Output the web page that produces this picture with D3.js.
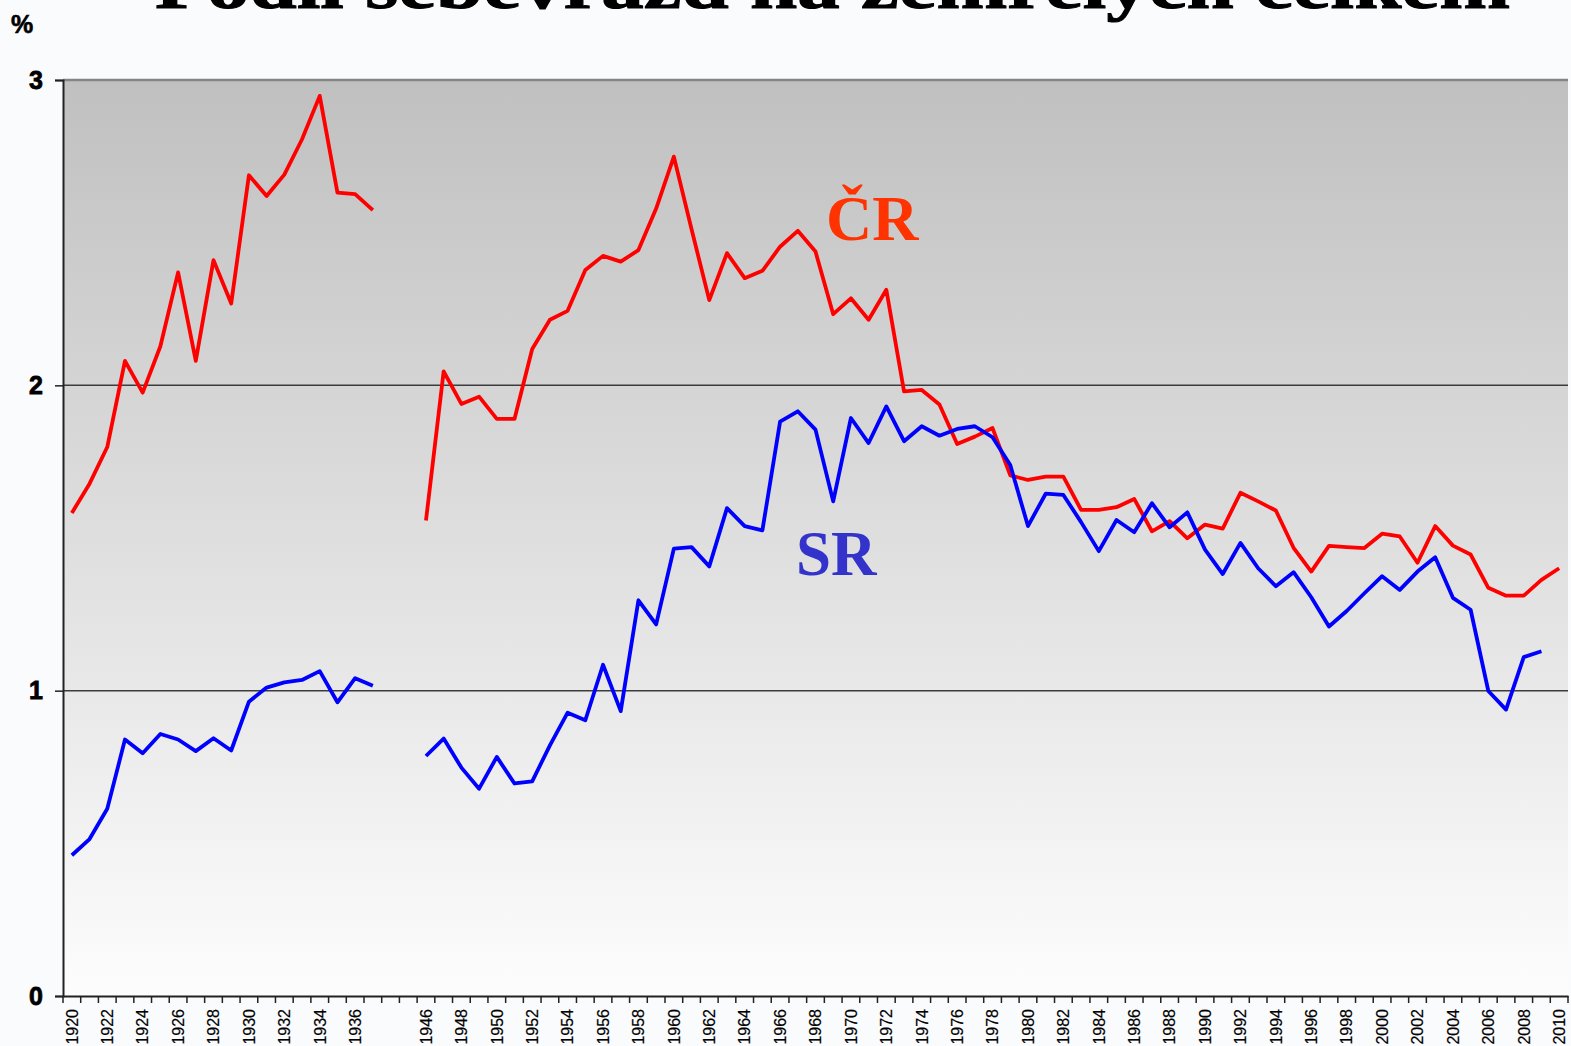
<!DOCTYPE html>
<html lang="cs">
<head>
<meta charset="UTF-8">
<title>Podíl sebevražd na zemřelých celkem</title>
<script src="https://d3js.org/d3.v7.min.js"></script>
<style>
    body { margin: 0; background: #fafbfd; }
    svg { display: block; }
    .title { font-family: 'Liberation Serif', 'DejaVu Serif', serif; font-weight: bold; }
    .axis text { font-family: 'Liberation Sans', Arial, sans-serif; fill: #000; }
    .series-label { font-family: 'Liberation Serif', 'DejaVu Serif', serif; font-weight: bold; }
</style>
</head>
<body>
<svg id="chart" width="1571" height="1046"></svg>
<script>
// kategorie osy x (dvě prázdné pozice mezi 1937 a 1946)
const categories = [
    "1920","1921","1922","1923","1924","1925","1926","1927","1928","1929",
    "1930","1931","1932","1933","1934","1935","1936","1937",
    "","",
    "1946","1947","1948","1949","1950","1951","1952","1953","1954","1955",
    "1956","1957","1958","1959","1960","1961","1962","1963","1964","1965",
    "1966","1967","1968","1969","1970","1971","1972","1973","1974","1975",
    "1976","1977","1978","1979","1980","1981","1982","1983","1984","1985",
    "1986","1987","1988","1989","1990","1991","1992","1993","1994","1995",
    "1996","1997","1998","1999","2000","2001","2002","2003","2004","2005",
    "2006","2007","2008","2009","2010"
];

// ČR, podíl sebevražd na zemřelých (%)
const crValues = [
    1.582, 1.678, 1.798, 2.080, 1.976, 2.128, 2.370, 2.080, 2.410, 2.268,
    2.688, 2.620, 2.690, 2.806, 2.948, 2.631, 2.626, 2.574,
    null, null,
    1.557, 2.046, 1.939, 1.963, 1.890, 1.890, 2.119, 2.215, 2.244, 2.378,
    2.424, 2.405, 2.443, 2.579, 2.749, 2.511, 2.279, 2.433, 2.351, 2.375,
    2.454, 2.506, 2.438, 2.233, 2.285, 2.215, 2.313, 1.980, 1.985, 1.937,
    1.808, 1.832, 1.860, 1.705, 1.690, 1.701, 1.701, 1.592, 1.592, 1.601,
    1.628, 1.522, 1.555, 1.499, 1.544, 1.531, 1.648, 1.620, 1.590, 1.468,
    1.390, 1.474, 1.470, 1.467, 1.514, 1.505, 1.419, 1.539, 1.475, 1.446,
    1.337, 1.311, 1.311, 1.363, 1.401
];

// SR
const srValues = [
    0.461, 0.514, 0.613, 0.840, 0.795, 0.858, 0.840, 0.802, 0.844, 0.804,
    0.964, 1.010, 1.027, 1.035, 1.064, 0.962, 1.041, 1.016,
    null, null,
    0.786, 0.843, 0.748, 0.679, 0.783, 0.696, 0.703, 0.821, 0.928, 0.903,
    1.085, 0.933, 1.296, 1.217, 1.465, 1.470, 1.407, 1.598, 1.539, 1.525,
    1.881, 1.915, 1.855, 1.620, 1.893, 1.811, 1.931, 1.817, 1.866, 1.835,
    1.857, 1.866, 1.830, 1.739, 1.539, 1.645, 1.641, 1.552, 1.457, 1.559,
    1.519, 1.614, 1.535, 1.584, 1.462, 1.382, 1.484, 1.401, 1.342, 1.388,
    1.306, 1.210, 1.261, 1.319, 1.375, 1.330, 1.390, 1.437, 1.304, 1.265,
    0.999, 0.938, 1.110, 1.129, null
];

const yTicks = [0, 1, 2, 3];

const svg = d3.select("#chart");
const margin = { left: 63, right: 3, top: 80, bottom: 50 };
const W = 1571, H = 1046;

const x = d3.scaleBand()
    .domain(d3.range(categories.length))
    .range([margin.left, W - margin.right])
    .padding(0);
const y = d3.scaleLinear().domain([0, 3]).range([H - margin.bottom, margin.top]);

// pozadí s přechodem
const defs = svg.append("defs");
const grad = defs.append("linearGradient").attr("id", "bg").attr("x1", 0).attr("y1", 0).attr("x2", 0).attr("y2", 1);
grad.append("stop").attr("offset", "0%").attr("stop-color", "#c0c0c0");
grad.append("stop").attr("offset", "100%").attr("stop-color", "#fdfdfd");

svg.append("rect")
    .attr("x", x.range()[0]).attr("y", y(3))
    .attr("width", x.range()[1] - x.range()[0]).attr("height", y(0) - y(3))
    .attr("fill", "url(#bg)");

// mřížka
svg.append("g").selectAll("line").data([1, 2]).join("line")
    .attr("x1", x.range()[0]).attr("x2", x.range()[1])
    .attr("y1", d => y(d)).attr("y2", d => y(d))
    .attr("stroke", "#3c3c3c").attr("stroke-width", 1.5);
svg.append("line")
    .attr("x1", x.range()[0]).attr("x2", x.range()[1])
    .attr("y1", y(3)).attr("y2", y(3))
    .attr("stroke", "#858585").attr("stroke-width", 2.5);

// osa y
const yAxis = svg.append("g").attr("class", "axis")
    .attr("transform", `translate(${margin.left},0)`)
    .call(d3.axisLeft(y).tickValues(yTicks).tickSize(8).tickPadding(12).tickFormat(d3.format("d")));
yAxis.select(".domain").attr("stroke", "#222").attr("stroke-width", 2);
yAxis.selectAll(".tick line").attr("stroke", "#222").attr("stroke-width", 1.5);
yAxis.selectAll("text")
    .style("font-size", "25px").style("font-weight", "bold")
    .attr("stroke", "#000").attr("stroke-width", 0.8);

// osa x
const xAxis = svg.append("g").attr("class", "axis")
    .attr("transform", `translate(0,${y(0)})`)
    .call(d3.axisBottom(x).tickSize(0).tickFormat(i => i % 2 === 0 ? categories[i] : ""));
xAxis.select(".domain").attr("stroke", "#222").attr("stroke-width", 2);
xAxis.selectAll("text")
    .attr("transform", "rotate(-90)")
    .attr("x", -13).attr("y", 0).attr("dy", "0.36em")
    .style("text-anchor", "end").style("font-size", "16px")
    .attr("stroke", "#000").attr("stroke-width", 0.2);
const bounds = d3.range(categories.length + 1).map(i => i < categories.length ? x(i) : x.range()[1]);
xAxis.append("g").selectAll("line").data(bounds).join("line")
    .attr("x1", d => d).attr("x2", d => d).attr("y1", 0).attr("y2", 7)
    .attr("stroke", "#222").attr("stroke-width", 1.5);

// jednotka
svg.append("text").attr("x", 11).attr("y", 33)
    .style("font-family", "'Liberation Sans', Arial, sans-serif")
    .style("font-size", "25px").style("font-weight", "bold")
    .attr("stroke", "#000").attr("stroke-width", 0.6)
    .text("%");

// titulek (oříznutý horním okrajem)
svg.append("text").attr("class", "title")
    .attr("x", 155).attr("y", 8)
    .attr("textLength", 1355).attr("lengthAdjust", "spacingAndGlyphs")
    .attr("stroke", "#000").attr("stroke-width", 1)
    .style("font-size", "66px")
    .text("Podíl sebevražd na zemřelých celkem");

// řady
const line = d3.line()
    .defined(d => d.v != null)
    .x(d => x(d.i) + x.bandwidth() / 2)
    .y(d => y(d.v));

const series = [
    { name: "ČR", values: crValues, color: "#ff0000" },
    { name: "SR", values: srValues, color: "#0000ff" }
];
svg.append("g").selectAll("path").data(series).join("path")
    .attr("d", s => line(s.values.map((v, i) => ({ i, v }))))
    .attr("fill", "none")
    .attr("stroke", s => s.color)
    .attr("stroke-width", 3.8)
    .attr("stroke-linejoin", "round");

// popisky řad
svg.append("text").attr("class", "series-label")
    .attr("x", 826).attr("y", 240).attr("fill", "#ff3300")
    .style("font-size", "64px").text("ČR");
svg.append("text").attr("class", "series-label")
    .attr("x", 796).attr("y", 575).attr("fill", "#3333cc")
    .style("font-size", "63px").text("SR");
</script>
</body>
</html>
